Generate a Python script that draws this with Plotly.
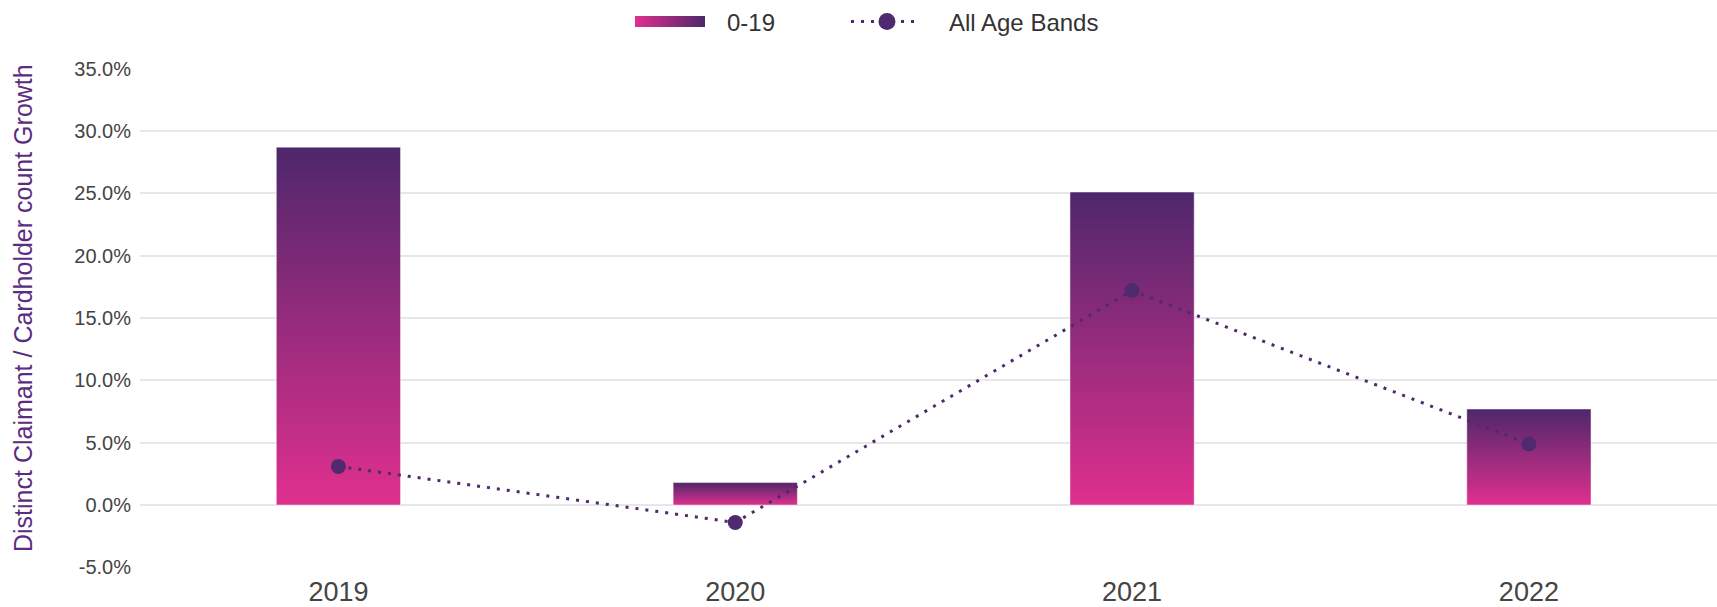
import base64
import plotly.graph_objects as go

# Data
years = ["2019", "2020", "2021", "2022"]
growth_0_19 = [28.7, 1.8, 25.1, 7.7]          # % growth, age band 0-19
growth_all_bands = [3.1, -1.4, 17.2, 4.9]      # % growth, all age bands
y_ticks = [-5, 0, 5, 10, 15, 20, 25, 30, 35]
y_tick_labels = ["-5.0%", "0.0%", "5.0%", "10.0%", "15.0%",
                 "20.0%", "25.0%", "30.0%", "35.0%"]

PINK = "#e0308e"
PURPLE = "#4e276b"
LINE_PURPLE = "#4f2a6e"
BAR_WIDTH = 0.313
FONT = "Liberation Sans"

W, H = 1717, 607
ML, MR, MT, MB = 140, 0, 68, 39


def paper_x(px):
    return (px - ML) / (W - ML - MR)


def paper_y(py):
    return (H - MB - py) / (H - MT - MB)


fig = go.Figure()

# Bars drawn as filled polygons so each one carries its own vertical gradient
for i, (yr, v) in enumerate(zip(years, growth_0_19)):
    x0, x1 = i - BAR_WIDTH / 2, i + BAR_WIDTH / 2
    fig.add_trace(go.Scatter(
        x=[x0, x0, x1, x1, x0],
        y=[0, v, v, 0, 0],
        mode="lines",
        fill="toself",
        fillgradient=dict(type="vertical",
                          colorscale=[[0, PINK], [1, PURPLE]]),
        line=dict(color="rgba(255,255,255,0.45)", width=1),
        name="0-19",
        hoverinfo="skip",
    ))

# All age bands line
fig.add_trace(go.Scatter(
    x=list(range(len(years))),
    y=growth_all_bands,
    mode="lines+markers",
    line=dict(color=LINE_PURPLE, width=3, dash="3px,7px"),
    marker=dict(color=LINE_PURPLE, size=15),
    name="All Age Bands",
))

# Legend: gradient swatch, dotted line with dot, and labels
swatch_svg = (
    '<svg xmlns="http://www.w3.org/2000/svg" width="70" height="11">'
    '<defs><linearGradient id="g" x1="0" x2="1" y1="0" y2="0">'
    f'<stop offset="0" stop-color="{PINK}"/>'
    f'<stop offset="1" stop-color="{PURPLE}"/>'
    '</linearGradient></defs>'
    '<rect width="70" height="11" fill="url(#g)"/></svg>'
)
swatch_src = "data:image/svg+xml;base64," + base64.b64encode(
    swatch_svg.encode()).decode()

plot_w = W - ML - MR
plot_h = H - MT - MB
legend_y = 21.5

fig.add_layout_image(dict(
    source=swatch_src,
    xref="paper", yref="paper",
    x=paper_x(635), y=paper_y(legend_y - 5.5),
    sizex=70 / plot_w, sizey=11 / plot_h,
    xanchor="left", yanchor="top",
    sizing="stretch", layer="above",
))

fig.add_shape(type="line", xref="paper", yref="paper",
              x0=paper_x(851), x1=paper_x(918),
              y0=paper_y(legend_y), y1=paper_y(legend_y),
              line=dict(color=LINE_PURPLE, width=3, dash="3px,7px"))
fig.add_shape(type="circle", xref="paper", yref="paper",
              x0=paper_x(887 - 8.5), x1=paper_x(887 + 8.5),
              y0=paper_y(legend_y - 8.5), y1=paper_y(legend_y + 8.5),
              fillcolor=LINE_PURPLE, line=dict(width=0))

for label, px in [("0-19", 725), ("All Age Bands", 947)]:
    fig.add_annotation(text=label, xref="paper", yref="paper",
                       x=paper_x(px), y=paper_y(legend_y + 1),
                       xanchor="left", yanchor="middle", showarrow=False,
                       font=dict(size=24, color="#333333"))

# Y axis title
fig.add_annotation(text="Distinct Claimant / Cardholder count Growth",
                   xref="paper", yref="paper",
                   x=paper_x(23), y=paper_y(308),
                   xanchor="center", yanchor="middle", textangle=-90,
                   showarrow=False,
                   font=dict(size=25, color="#5a2d80"))

fig.update_layout(
    width=W,
    height=H,
    margin=dict(l=ML, r=MR, t=MT, b=MB),
    paper_bgcolor="white",
    plot_bgcolor="white",
    font=dict(family=FONT, color="#444444"),
    showlegend=False,
    xaxis=dict(
        range=[-0.5, 3.474],
        tickmode="array",
        tickvals=list(range(len(years))),
        ticktext=years,
        showgrid=False,
        zeroline=False,
        showline=False,
        ticklabelstandoff=5,
        tickfont=dict(size=27, color="#444444"),
    ),
    yaxis=dict(
        range=[-5.05, 35.05],
        tickmode="array",
        tickvals=y_ticks,
        ticktext=y_tick_labels,
        showgrid=True,
        gridcolor="#e6e7eb",
        gridwidth=2,
        zeroline=False,
        showline=False,
        ticklabelstandoff=8,
        tickfont=dict(size=20, color="#444444"),
    ),
)

fig.write_html("out.html")
